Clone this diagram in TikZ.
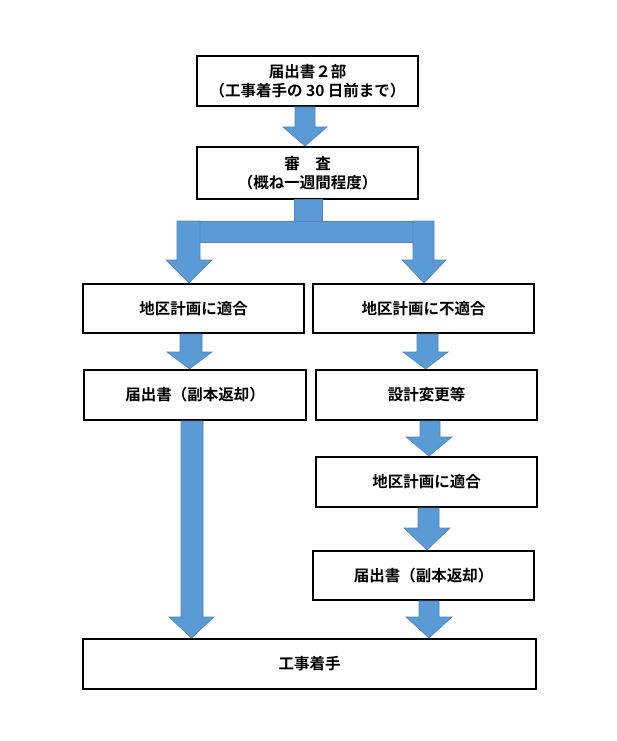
\documentclass[tikz,border=0pt]{standalone}
\usepackage{fontspec}
\newfontfamily\jpfont{Noto Sans CJK JP}[BoldFont={* Bold}]
\begin{document}
\begin{tikzpicture}[x=1pt,y=-1pt,
  box/.style={draw=black,line width=1.1pt,fill=white,inner sep=0pt,align=center,
    font=\jpfont\bfseries\fontsize{15.5}{19}\selectfont},
  arr/.style={fill=arrowblue,draw=arrowedge,line width=0.6pt,line join=miter}]
\definecolor{arrowblue}{HTML}{5B9BD5}
\definecolor{arrowedge}{HTML}{4F83BD}
\useasboundingbox[fill=white] (0,0) rectangle (617,741);
\newcommand\blockarrow[7]{%
  \filldraw[arr] (#1,#5) -- (#2,#5) -- (#2,#6) -- (#4,#6) -- ({(#3+#4)/2},#7) -- (#3,#6) -- (#1,#6) -- cycle;}
% boxes
\node[box,minimum width=221pt,minimum height=50pt] (b1) at (307.5,81) {届出書２部\\（工事着手の 30 日前まで）};
\node[box,minimum width=221pt,minimum height=52pt] (b2) at (307.5,173) {審　査\\（概ね一週間程度）};
\node[box,minimum width=221pt,minimum height=49pt] (l1) at (193.5,308.5) {地区計画に適合};
\node[box,minimum width=221pt,minimum height=49pt] (r1) at (423.5,308.5) {地区計画に不適合};
\node[box,minimum width=222pt,minimum height=50pt] (l2) at (195,395) {届出書（副本返却）};
\node[box,minimum width=221pt,minimum height=50pt] (r2) at (426.5,395) {設計変更等};
\node[box,minimum width=221pt,minimum height=50pt] (r3) at (426.5,482) {地区計画に適合};
\node[box,minimum width=221pt,minimum height=49pt] (r4) at (423.5,575.5) {届出書（副本返却）};
\node[box,minimum width=453pt,minimum height=50pt] (b3) at (309.5,664) {工事着手};
% arrows
\blockarrow{295}{315}{283}{327}{107}{127}{146}
% fork
\filldraw[arr] (294,199) rectangle (322,221);
\filldraw[arr] (195,221) rectangle (418,242);
\blockarrow{177}{200}{166}{212}{221}{260}{283}
\blockarrow{413}{434}{402}{446}{221}{260}{283}
% left column
\blockarrow{180}{202}{167}{212}{334}{352}{369}
\blockarrow{181}{203}{169}{214}{421}{617}{638}
% right column
\blockarrow{417}{438}{403}{448}{334}{352}{369}
\blockarrow{420}{440}{406}{452}{421}{437}{456}
\blockarrow{418}{439}{404}{450}{508}{528}{550}
\blockarrow{419}{439}{406}{452}{601}{617}{638}
\end{tikzpicture}
\end{document}
